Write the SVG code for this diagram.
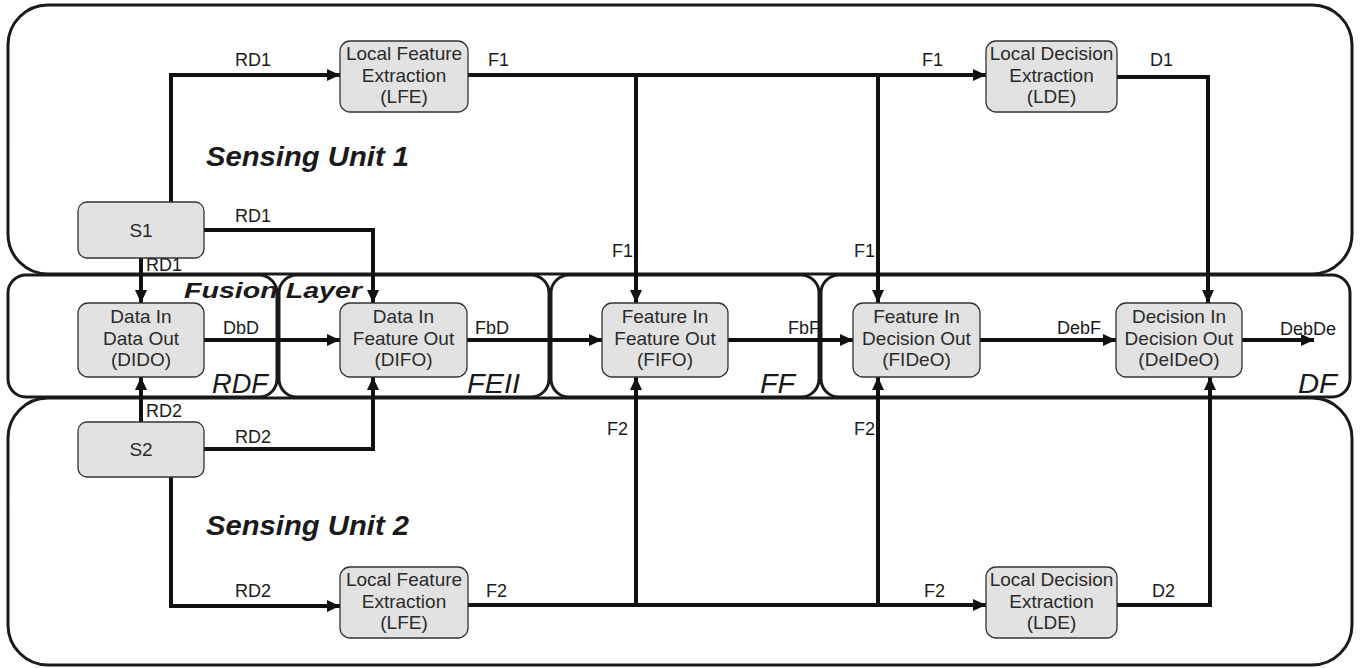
<svg xmlns="http://www.w3.org/2000/svg" width="1364" height="668" viewBox="0 0 1364 668">
<defs>
<marker id="arr" markerUnits="userSpaceOnUse" markerWidth="14" markerHeight="12" refX="13" refY="6" orient="auto">
<path d="M0,0 L13,6 L0,12 z" fill="#111"/>
</marker>
<style>
.cont{fill:#fff;stroke:#1a1a1a;stroke-width:3}
.box{fill:#e2e2e2;stroke:#333;stroke-width:1.3}
.nt{font-family:"Liberation Sans",Arial,sans-serif;font-size:19px;fill:#2a2a2a;text-anchor:middle}
.el{font-family:"Liberation Sans",Arial,sans-serif;font-size:18px;fill:#1a1a1a}
.big{font-family:"Liberation Sans",Arial,sans-serif;font-weight:bold;font-style:italic;fill:#1a1a1a}
.reg{font-family:"Liberation Sans",Arial,sans-serif;font-style:italic;font-size:27px;fill:#1a1a1a}
.c{fill:none;stroke:#111;stroke-width:4}
</style>
</defs>
<rect width="1364" height="668" fill="#fff"/>
<g id="containers">
<rect class="cont" x="8" y="5" width="1344" height="269" rx="40"/>
<rect class="cont" x="8" y="398" width="1344" height="267" rx="40"/>
<rect class="cont" x="8" y="275" width="269" height="122" rx="18"/>
<rect class="cont" x="279" y="275" width="270" height="122" rx="18"/>
<rect class="cont" x="551" y="275" width="268" height="122" rx="18"/>
<rect class="cont" x="821" y="275" width="529" height="122" rx="18"/>
<text class="big" x="206" y="166" font-size="27" textLength="203" lengthAdjust="spacingAndGlyphs">Sensing Unit 1</text>
<text class="big" x="206" y="535" font-size="27" textLength="203" lengthAdjust="spacingAndGlyphs">Sensing Unit 2</text>
<text class="reg" x="212" y="393" textLength="56" lengthAdjust="spacingAndGlyphs">RDF</text>
<text class="reg" x="467" y="393" textLength="53" lengthAdjust="spacingAndGlyphs">FEII</text>
<text class="reg" x="760" y="393" textLength="35" lengthAdjust="spacingAndGlyphs">FF</text>
<text class="reg" x="1298" y="393" textLength="39" lengthAdjust="spacingAndGlyphs">DF</text>
</g>
<g id="connectors">
<polyline class="c" points="171,202 171,75 340,75" marker-end="url(#arr)"/>
<polyline class="c" points="204,230 373,230 373,303" marker-end="url(#arr)"/>
<line class="c" x1="141" y1="258" x2="141" y2="303" marker-end="url(#arr)"/>
<line class="c" x1="141" y1="422" x2="141" y2="377" marker-end="url(#arr)"/>
<polyline class="c" points="204,449 373,449 373,377" marker-end="url(#arr)"/>
<polyline class="c" points="171,477 171,606 340,606" marker-end="url(#arr)"/>
<line class="c" x1="204" y1="340" x2="340" y2="340" marker-end="url(#arr)"/>
<line class="c" x1="467" y1="340" x2="602" y2="340" marker-end="url(#arr)"/>
<line class="c" x1="728" y1="340" x2="853" y2="340" marker-end="url(#arr)"/>
<line class="c" x1="980" y1="340" x2="1116" y2="340" marker-end="url(#arr)"/>
<line class="c" x1="1242" y1="340" x2="1314" y2="340" marker-end="url(#arr)"/>
<line class="c" x1="468" y1="75" x2="986" y2="75" marker-end="url(#arr)"/>
<line class="c" x1="636" y1="75" x2="636" y2="303" marker-end="url(#arr)"/>
<line class="c" x1="878" y1="75" x2="878" y2="303" marker-end="url(#arr)"/>
<polyline class="c" points="1117,77 1208,77 1208,303" marker-end="url(#arr)"/>
<line class="c" x1="467" y1="605" x2="986" y2="605" marker-end="url(#arr)"/>
<line class="c" x1="636" y1="605" x2="636" y2="377" marker-end="url(#arr)"/>
<line class="c" x1="878" y1="605" x2="878" y2="377" marker-end="url(#arr)"/>
<polyline class="c" points="1117,605 1210,605 1210,377" marker-end="url(#arr)"/>
<text class="el" x="235" y="66">RD1</text>
<text class="el" x="235" y="222">RD1</text>
<text class="el" x="146" y="271">RD1</text>
<text class="el" x="146" y="417">RD2</text>
<text class="el" x="235" y="443">RD2</text>
<text class="el" x="235" y="597">RD2</text>
<text class="el" x="223" y="334">DbD</text>
<text class="el" x="475" y="334">FbD</text>
<text class="el" x="788" y="334">FbF</text>
<text class="el" x="1057" y="334">DebF</text>
<text class="el" x="1280" y="335">DebDe</text>
<text class="el" x="488" y="66">F1</text>
<text class="el" x="922" y="66">F1</text>
<text class="el" x="1150" y="66">D1</text>
<text class="el" x="612" y="257">F1</text>
<text class="el" x="854" y="257">F1</text>
<text class="el" x="607" y="435">F2</text>
<text class="el" x="854" y="435">F2</text>
<text class="el" x="486" y="597">F2</text>
<text class="el" x="924" y="597">F2</text>
<text class="el" x="1152" y="597">D2</text>
</g>
<text class="big" x="184" y="298" font-size="22" textLength="178" lengthAdjust="spacingAndGlyphs">Fusion Layer</text>
<g id="S1"><rect class="box" x="78" y="202" width="126" height="56" rx="9"/><text class="nt" x="141" y="237">S1</text></g>
<g id="S2"><rect class="box" x="78" y="422" width="126" height="55" rx="9"/><text class="nt" x="141" y="456">S2</text></g>
<g id="LFE1"><rect class="box" x="340" y="41" width="128" height="71" rx="10"/><text class="nt" x="404" y="60">Local Feature</text><text class="nt" x="404" y="82">Extraction</text><text class="nt" x="404" y="103">(LFE)</text></g>
<g id="LDE1"><rect class="box" x="986" y="41" width="131" height="71" rx="10"/><text class="nt" x="1051.5" y="60">Local Decision</text><text class="nt" x="1051.5" y="82">Extraction</text><text class="nt" x="1051.5" y="103">(LDE)</text></g>
<g id="LFE2"><rect class="box" x="340" y="567" width="128" height="71" rx="10"/><text class="nt" x="404" y="586">Local Feature</text><text class="nt" x="404" y="608">Extraction</text><text class="nt" x="404" y="629">(LFE)</text></g>
<g id="LDE2"><rect class="box" x="986" y="567" width="131" height="71" rx="10"/><text class="nt" x="1051.5" y="586">Local Decision</text><text class="nt" x="1051.5" y="608">Extraction</text><text class="nt" x="1051.5" y="629">(LDE)</text></g>
<g id="DIDO"><rect class="box" x="78" y="303" width="126" height="74" rx="10"/><text class="nt" x="141" y="323">Data In</text><text class="nt" x="141" y="345">Data Out</text><text class="nt" x="141" y="366">(DIDO)</text></g>
<g id="DIFO"><rect class="box" x="340" y="303" width="127" height="74" rx="10"/><text class="nt" x="403.5" y="323">Data In</text><text class="nt" x="403.5" y="345">Feature Out</text><text class="nt" x="403.5" y="366">(DIFO)</text></g>
<g id="FIFO"><rect class="box" x="602" y="303" width="126" height="74" rx="10"/><text class="nt" x="665" y="323">Feature In</text><text class="nt" x="665" y="345">Feature Out</text><text class="nt" x="665" y="366">(FIFO)</text></g>
<g id="FIDeO"><rect class="box" x="853" y="303" width="127" height="74" rx="10"/><text class="nt" x="916.5" y="323">Feature In</text><text class="nt" x="916.5" y="345">Decision Out</text><text class="nt" x="916.5" y="366">(FIDeO)</text></g>
<g id="DeIDeO"><rect class="box" x="1116" y="303" width="126" height="74" rx="10"/><text class="nt" x="1179" y="323">Decision In</text><text class="nt" x="1179" y="345">Decision Out</text><text class="nt" x="1179" y="366">(DeIDeO)</text></g>
</svg>
